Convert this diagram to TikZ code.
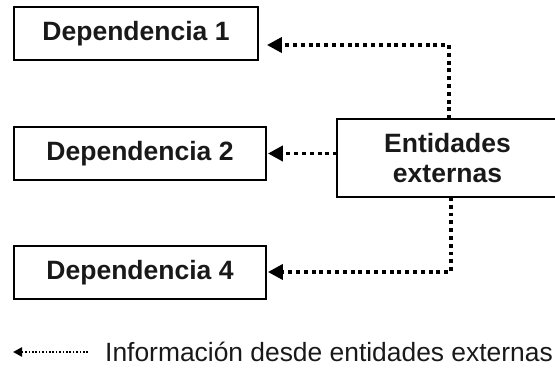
\documentclass[tikz,border=0pt]{standalone}
\usepackage{fontspec}
\setmainfont{Liberation Sans}
\usetikzlibrary{arrows.meta}
\begin{document}
\begin{tikzpicture}[x=1pt,y=-1pt,
  box/.style={draw=black,line width=1.8pt,rectangle,inner sep=0pt,align=center,
    font=\fontsize{26.5}{30}\selectfont\bfseries,text=black!90},
  openbox/.style={box,draw=none},
  boxline/.style={draw=black,line width=1.8pt},
  flow/.style={line width=3.8pt,dash pattern=on 3.9pt off 3.9pt,
    -{Triangle[length=15pt,width=15pt]}},
  legflow/.style={line width=2.4pt,dash pattern=on 1.7pt off 1.7pt,
    -{Triangle[length=9pt,width=9pt]}},
  legtext/.style={anchor=west,inner sep=0pt,font=\fontsize{26.4}{30}\selectfont,text=black!90}]
\useasboundingbox (0,0) rectangle (555,372);
\node[box,minimum width=244pt,minimum height=53pt] (dep1) at (136,33.5) {Dependencia 1};
\node[box,minimum width=252pt,minimum height=53pt] (dep2) at (140,153.5) {Dependencia 2};
\node[box,minimum width=252pt,minimum height=53pt] (dep4) at (140,272.5) {Dependencia 4};
\node[openbox,minimum width=219pt,minimum height=76pt] (ent) at (447.5,158) {Entidades\\externas};
\draw[boxline] ([xshift=5pt]ent.north east) -- (ent.north west) -- (ent.south west) -- ([xshift=5pt]ent.south east);
\coordinate (c1) at (449,45);
\coordinate (c4) at (451,272);
\draw[flow,shorten >=8pt] (ent.north -| c1) -- (c1) -- (dep1.east |- c1);
\draw[flow,shorten >=1pt] (ent.west |- dep2.east) -- (dep2.east);
\draw[flow,shorten >=1pt] (ent.south -| c4) -- (c4) -- (dep4.east |- c4);
\node[legtext] (leg) at (105,352) {Información desde entidades externas};
\coordinate (l0) at (13,352);
\draw[legflow] (leg.west) ++(-17pt,0) coordinate (l1) (l1) -- (l0);
\end{tikzpicture}
\end{document}
